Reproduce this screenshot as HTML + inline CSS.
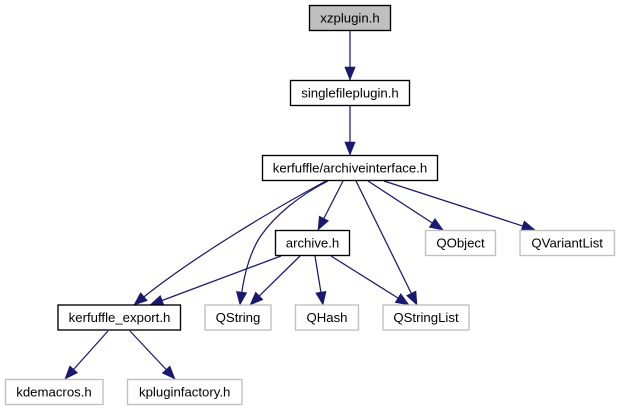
<!DOCTYPE html>
<html>
<head>
<meta charset="utf-8">
<style>
html,body{margin:0;padding:0;background:#fff;width:620px;height:411px;overflow:hidden}
svg{display:block}
text{font-family:"Liberation Sans",sans-serif;font-size:13.2px;fill:#000;text-anchor:middle}
.b{fill:#fff;stroke:#000;stroke-width:1.35}
.g{fill:#fff;stroke:#bfbfbf;stroke-width:1.35}
.e{fill:none;stroke:#191970;stroke-width:1.25}
</style>
</head>
<body>
<svg width="620" height="411" viewBox="0 0 620 411" xmlns="http://www.w3.org/2000/svg">
<defs>
<marker id="a" markerUnits="userSpaceOnUse" markerWidth="15" markerHeight="13" refX="13.5" refY="6" orient="auto">
<polygon points="0.5,0.8 13.5,6 0.5,11.2" fill="#191970" stroke="#191970" stroke-width="0.6"/>
</marker>
</defs>

<path class="e" marker-end="url(#a)" d="M350,31 L350,80"/>
<path class="e" marker-end="url(#a)" d="M350,106 L350,155"/>
<path class="e" marker-end="url(#a)" d="M326,181 C272,210 185,262 134,305"/>
<path class="e" marker-end="url(#a)" d="M328,181 C300,195 275,215 260,237 C248,256 243,280 240,305"/>
<path class="e" marker-end="url(#a)" d="M343,181 L318,230"/>
<path class="e" marker-end="url(#a)" d="M356,181 L417,305"/>
<path class="e" marker-end="url(#a)" d="M368,181 L443,230"/>
<path class="e" marker-end="url(#a)" d="M384,181 L535,230"/>
<path class="e" marker-end="url(#a)" d="M281,256 L150,305"/>
<path class="e" marker-end="url(#a)" d="M300,256 L250,305"/>
<path class="e" marker-end="url(#a)" d="M315,256 L323,305"/>
<path class="e" marker-end="url(#a)" d="M331,256 L409,305"/>
<path class="e" marker-end="url(#a)" d="M108,331 L65,379"/>
<path class="e" marker-end="url(#a)" d="M130,331 L175,379"/>

<rect x="309.5" y="5.5" width="81" height="25" fill="#bfbfbf" stroke="#000" stroke-width="1.35"/>
<text x="350" y="22.5">xzplugin.h</text>

<rect class="b" x="290.5" y="80.5" width="119" height="25"/>
<text x="350" y="97.5">singlefileplugin.h</text>

<rect class="b" x="262.5" y="155.5" width="175" height="25"/>
<text x="350" y="172.5">kerfuffle/archiveinterface.h</text>

<rect class="b" x="275.5" y="230.5" width="74" height="25"/>
<text x="312.5" y="247.5">archive.h</text>

<rect class="g" x="425.5" y="230.5" width="70" height="25"/>
<text x="460.5" y="247.5">QObject</text>

<rect class="g" x="520" y="230.5" width="94.5" height="25"/>
<text x="567.2" y="247.5">QVariantList</text>

<rect class="b" x="58" y="305" width="122.5" height="25"/>
<text x="119.5" y="322">kerfuffle_export.h</text>

<rect class="g" x="205" y="305" width="66" height="25"/>
<text x="238" y="322">QString</text>

<rect class="g" x="295.5" y="305" width="63" height="25"/>
<text x="327" y="322">QHash</text>

<rect class="g" x="383" y="305" width="86" height="25"/>
<text x="426" y="322">QStringList</text>

<rect class="g" x="5.5" y="379.5" width="97.5" height="25"/>
<text x="54" y="396.5">kdemacros.h</text>

<rect class="g" x="127.5" y="379.5" width="114.5" height="25"/>
<text x="184.7" y="396.5">kpluginfactory.h</text>
</svg>
</body>
</html>
